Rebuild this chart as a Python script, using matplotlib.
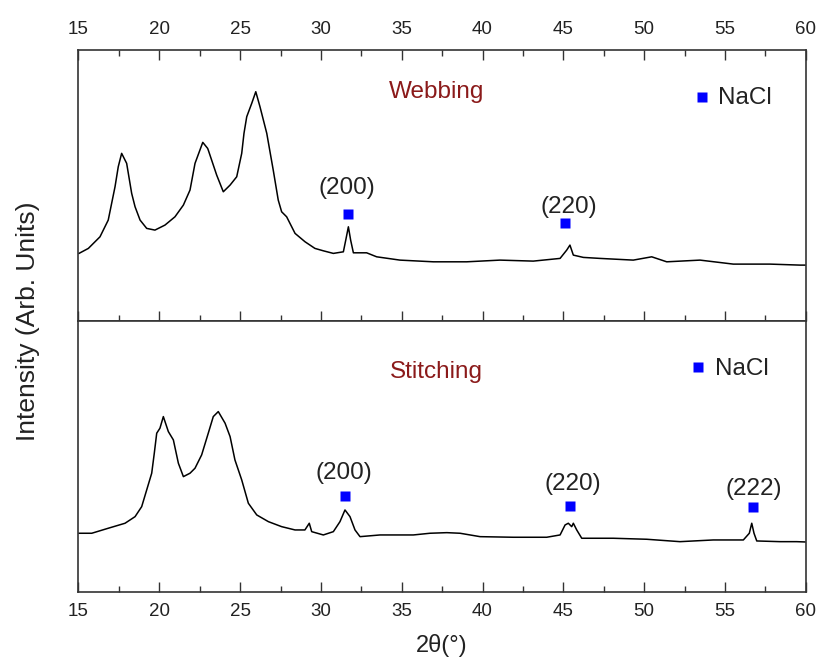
import numpy as np
import matplotlib
matplotlib.use("Agg")
import matplotlib.pyplot as plt
from matplotlib.ticker import MultipleLocator

plt.rcParams['font.family'] = ['Liberation Sans', 'DejaVu Sans']

# Webbing pattern (2theta, intensity in arb. units)
web_2theta = [15.03, 15.61, 16.33, 16.84, 17.26, 17.46, 17.67, 17.98, 18.29, 18.50,
              18.81, 19.22, 19.73, 20.35, 20.97, 21.49, 21.90, 22.21, 22.69, 22.99,
              23.03, 23.55, 23.96, 24.38, 24.79, 25.10, 25.24, 25.41, 25.72, 25.97,
              26.23, 26.65, 26.85, 27.05, 27.36, 27.57, 27.88, 28.40, 29.02, 29.63,
              30.15, 30.77, 31.39, 31.55, 31.70, 31.84, 32.01, 32.83, 33.45, 34.89,
              36.96, 39.02, 41.08, 43.14, 44.80, 45.21, 45.41, 45.62, 46.24, 47.27,
              49.33, 50.47, 51.40, 53.46, 55.52, 57.79, 59.65, 59.96]
web_int = [67.7, 72.7, 84.3, 101, 134.3, 154.3, 167.7, 157.7, 127.7, 114.3,
           101, 92.7, 91, 96, 104.3, 116, 131, 157.7, 178.7, 172.7,
           171, 146, 129.3, 136, 144.3, 167.7, 187.7, 204.3, 217.7, 229.3,
           214.3, 187.7, 169.3, 151, 121, 109.3, 104.3, 87.7, 79.3, 72.7,
           70.3, 67.7, 69.3, 82, 94.3, 81, 68.3, 68.3, 64.3, 61,
           59.3, 59.3, 61, 60, 62.7, 71, 76, 66, 63.7, 62.7,
           61, 64.3, 59.3, 61, 57, 57, 56, 56]

# Stitching pattern
sti_2theta = [15.03, 15.82, 16.84, 17.88, 18.50, 18.91, 19.22, 19.53, 19.69, 19.84,
              20.04, 20.25, 20.56, 20.87, 21.18, 21.49, 21.90, 22.21, 22.62, 23.03,
              23.34, 23.65, 24.07, 24.38, 24.68, 25.10, 25.51, 26.03, 26.75, 27.57,
              28.40, 29.01, 29.28, 29.43, 30.15, 30.77, 31.18, 31.49, 31.80, 32.11,
              32.42, 33.66, 35.72, 36.75, 37.79, 38.61, 39.85, 41.91, 43.97, 44.80,
              45.11, 45.31, 45.52, 45.62, 45.83, 46.14, 48.09, 50.16, 52.22, 54.28,
              56.14, 56.51, 56.66, 56.80, 56.97, 58.41, 59.44, 59.96]
sti_int = [59, 59, 64, 69, 75.6, 85.6, 102.3, 119, 139, 159,
           164, 175.6, 160.6, 152.3, 129, 115.6, 119, 124, 137.3, 159,
           175.6, 180.6, 169, 155.6, 132.3, 112.3, 89, 77.3, 70.6, 65.6,
           62.3, 62.3, 69, 60.6, 57.3, 60.6, 70.6, 82.3, 75.6, 62.3,
           55.6, 57.3, 57.3, 59, 59.6, 59, 55.6, 55, 55, 57.3,
           67.3, 69, 65.6, 69, 62.3, 54, 54, 53, 50.6, 52.3,
           52.3, 59, 69, 59, 51.3, 50.6, 50.6, 50.3]

# NaCl reflections: label, marker position, label position
web_peaks = ["(200)", "(220)"]
web_mark_x = [31.66, 45.12]
web_mark_y = [107, 97.7]
web_lab_x = [31.60, 45.37]
web_lab_y = [132.7, 114.3]

sti_peaks = ["(200)", "(220)", "(222)"]
sti_mark_x = [31.49, 45.40, 56.72]
sti_mark_y = [96.3, 86.6, 85]
sti_lab_x = [31.43, 45.56, 56.76]
sti_lab_y = [119, 108.3, 103.3]

fig, (ax1, ax2) = plt.subplots(2, 1, sharex=True, figsize=(8.16, 6.57), dpi=100)
fig.subplots_adjust(left=0.0962, right=0.9874, top=0.9239, bottom=0.0985, hspace=0)

panels = [
    (ax1, web_2theta, web_int, web_peaks, web_mark_x, web_mark_y, web_lab_x, web_lab_y,
     "Webbing", 53.56, 224.3, 229.3),
    (ax2, sti_2theta, sti_int, sti_peaks, sti_mark_x, sti_mark_y, sti_lab_x, sti_lab_y,
     "Stitching", 53.36, 225, 220),
]

for ax, x, y, peaks, mx, my, lx, ly, name, legx, legy, namey in panels:
    ax.plot(x, y, color='black', lw=1.1)
    ax.plot(mx, my, 's', color='#0000ff', ms=7, mec='none')
    for lab, px, py in zip(peaks, lx, ly):
        ax.text(px, py, lab, ha='center', va='center', fontsize=17.5, color='#222222')
    ax.plot([legx], [legy], 's', color='#0000ff', ms=7, mec='none')
    ax.text(legx + 1.0, legy - 1.5, "NaCl", ha='left', va='center', fontsize=17.5, color='#222222')
    ax.text(0.492, namey / 271, name, transform=ax.transAxes, ha='center', va='center',
            fontsize=17.5, color='#8b1a1a')
    ax.set_ylim(0, 271)
    ax.set_xlim(15, 60)
    ax.set_yticks([])
    for s in ax.spines.values():
        s.set_linewidth(1.2)
        s.set_color('#333333')

ax1.xaxis.set_major_locator(MultipleLocator(5))
ax1.xaxis.set_minor_locator(MultipleLocator(2.5))
ax1.tick_params(axis='x', which='both', direction='in', top=True, bottom=True,
                labeltop=True, labelbottom=False, labelsize=13.5, labelcolor='#222222',
                color='#333333', pad=8.5)
ax2.tick_params(axis='x', which='both', direction='in', top=False, bottom=True,
                labeltop=False, labelbottom=True, labelsize=13.5, labelcolor='#222222',
                color='#333333', pad=7.5)
for ax in (ax1, ax2):
    ax.tick_params(axis='x', which='major', length=7, width=1)
    ax.tick_params(axis='x', which='minor', length=4.5, width=1)

ax2.set_xlabel("2θ(°)", fontsize=17, color='#222222', labelpad=10.5)
fig.text(28 / 816, 0.511, "Intensity (Arb. Units)", rotation=90, ha='center', va='center',
         fontsize=19, color='#222222')

fig.savefig("out.png", dpi=100)
